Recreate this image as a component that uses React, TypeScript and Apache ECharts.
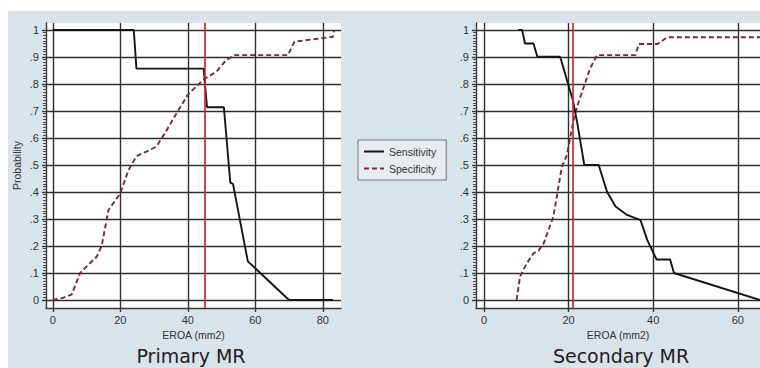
import React, { useEffect, useRef } from "react";
import * as echarts from "echarts";

// ---------- data ----------
const X_TICKS = [0, 20, 40, 60, 80];
const Y_TICKS = [0, 0.1, 0.2, 0.3, 0.4, 0.5, 0.6, 0.7, 0.8, 0.9, 1];
const SERIES_NAMES = ["Sensitivity", "Specificity"];
const PANEL_TITLES = ["Primary MR", "Secondary MR"];
const X_TITLE = "EROA (mm2)";
const Y_TITLE = "Probability";
const CUTOFFS = [45, 21];

const primSensX = [0, 24, 24.8, 44.7, 45.7, 50.7, 52.6, 53.4, 57.8, 70, 83];
const primSensY = [1, 1, 0.857, 0.857, 0.714, 0.714, 0.435, 0.43, 0.143, 0, 0];
const primSpecX = [0, 3, 5.6, 8.1, 11, 13, 14.5, 16.5, 20, 22.4, 24.8, 27.8, 30.7, 33.2, 36.6, 40, 44.5, 48.5, 51.4, 53.9, 69.7, 71.6, 83, 83.4];
const primSpecY = [0, 0.008, 0.02, 0.1, 0.136, 0.16, 0.2, 0.333, 0.395, 0.48, 0.533, 0.55, 0.568, 0.617, 0.69, 0.76, 0.815, 0.846, 0.889, 0.907, 0.907, 0.957, 0.975, 1];

const secSensX = [8.1, 9, 9.7, 11.7, 12.6, 18, 19.6, 21, 22, 23.7, 27.1, 29.1, 31.1, 33.8, 37, 38.6, 40.8, 44, 44.9, 65.3];
const secSensY = [1, 1, 0.95, 0.95, 0.901, 0.901, 0.815, 0.74, 0.66, 0.5, 0.5, 0.4, 0.346, 0.315, 0.296, 0.222, 0.15, 0.15, 0.1, 0];
const secSpecX = [7.7, 8.5, 10.1, 11.7, 12.9, 14.1, 16.4, 18.4, 19.6, 21, 22, 23.6, 25.1, 26.7, 35.8, 36.6, 41, 43.3, 66];
const secSpecY = [0, 0.086, 0.136, 0.173, 0.183, 0.21, 0.309, 0.494, 0.537, 0.654, 0.716, 0.79, 0.858, 0.907, 0.907, 0.948, 0.948, 0.973, 0.973];

// minor tick positions on probability axis (every .01)
const Y_MINOR: number[] = [];
for (let i = 0; i <= 100; i++) if (i % 10 !== 0) Y_MINOR.push(i / 100);

const zip = (xs: number[], ys: number[]) => xs.map((x, i) => [x, ys[i]]);

const GRID_COLOR = "#2e2e2e";
const AXIS_COLOR = "#3a3a3a";
const TEXT_COLOR = "#333";
const SENS_COLOR = "#151515";
const SPEC_COLOR = "#7a2a38";
const RED = "#cc2a2a";
const BG = "#d9e3ea";
const LABEL_FONT = "Liberation Sans";

export default function App() {
  const ref = useRef<HTMLDivElement>(null);

  useEffect(() => {
    if (!ref.current) return;
    const chart = echarts.init(ref.current, null, { renderer: "svg" });

    const grids = [
      { left: 46, right: 419, top: 23, bottom: 60 },
      { left: 476, right: 0, top: 23, bottom: 60 },
    ];
    const xRanges = [
      [-2, 85.4],
      [-1.9, 65.25],
    ];
    const yMin = -0.0296;
    const yMax = 1.026;

    const xAxes: any[] = [];
    const yAxes: any[] = [];
    grids.forEach((_, gi) => {
      xAxes.push({
        type: "value",
        gridIndex: gi,
        min: xRanges[gi][0],
        max: xRanges[gi][1],
        name: X_TITLE,
        nameLocation: "middle",
        nameGap: 21,
        nameTextStyle: { color: TEXT_COLOR, fontSize: 10.5, fontFamily: LABEL_FONT },
        axisLine: { show: true, onZero: false, lineStyle: { color: AXIS_COLOR, width: 1.4 } },
        axisTick: { show: true, length: 4, customValues: X_TICKS, lineStyle: { color: AXIS_COLOR, width: 1.4 } },
        axisLabel: {
          show: true,
          customValues: X_TICKS,
          margin: 6,
          color: TEXT_COLOR,
          fontSize: 11,
          fontFamily: LABEL_FONT,
        },
        splitLine: { show: true, lineStyle: { color: GRID_COLOR, width: 1.4 } },
      });
      yAxes.push({
        type: "value",
        gridIndex: gi,
        min: yMin,
        max: yMax,
        name: gi === 0 ? Y_TITLE : "",
        nameLocation: "middle",
        nameGap: 24,
        nameTextStyle: { color: TEXT_COLOR, fontSize: 10.5, fontFamily: LABEL_FONT },
        axisLine: { show: true, onZero: false, lineStyle: { color: AXIS_COLOR, width: 1.4 } },
        axisTick: { show: true, length: 4, customValues: Y_TICKS, lineStyle: { color: AXIS_COLOR, width: 1.4 } },
        axisLabel: {
          show: true,
          customValues: Y_TICKS,
          margin: 7,
          color: TEXT_COLOR,
          fontSize: 11,
          fontFamily: LABEL_FONT,
          formatter: (v: number) => (v === 0 ? "0" : v === 1 ? "1" : String(Math.round(v * 10) / 10).replace(/^0/, "")),
        },
        splitLine: { show: true, lineStyle: { color: GRID_COLOR, width: 1.4 } },
      });
    });
    // minor tick axes
    grids.forEach((_, gi) => {
      yAxes.push({
        type: "value",
        gridIndex: gi,
        min: yMin,
        max: yMax,
        position: "left",
        offset: 0,
        axisLine: { show: true, onZero: false, lineStyle: { color: "rgba(0,0,0,0)", width: 0 } },
        axisTick: { show: true, length: 3, customValues: Y_MINOR, lineStyle: { color: "#4a4a4a", width: 1 } },
        axisLabel: { show: false },
        splitLine: { show: false },
      });
    });

    const mkSeries = (name: string, gi: number, data: number[][], dashed: boolean, cut?: number) => ({
      type: "line",
      name,
      xAxisIndex: gi,
      yAxisIndex: gi,
      data,
      symbol: "none",
      silent: true,
      lineStyle: {
        color: dashed ? SPEC_COLOR : SENS_COLOR,
        width: 1.9,
        type: dashed ? [5, 3] : "solid",
      },
      itemStyle: { color: dashed ? SPEC_COLOR : SENS_COLOR },
      z: dashed ? 3 : 4,
      markLine:
        cut !== undefined
          ? {
              silent: true,
              symbol: ["none", "none"],
              label: { show: false },
              lineStyle: { color: RED, width: 1.7, type: "solid" },
              data: [{ xAxis: cut }],
            }
          : undefined,
    });

    const titleStyle = {
      textAlign: "center",
      textVerticalAlign: "middle",
      fontSize: 19,
      fontFamily: "DejaVu Sans",
      fill: "#222",
    };

    const option: any = {
      animation: false,
      backgroundColor: "#ffffff",
      grid: grids.map((g) => ({
        ...g,
        show: true,
        backgroundColor: "#ffffff",
        borderWidth: 0,
        containLabel: false,
      })),
      xAxis: xAxes,
      yAxis: yAxes,
      legend: {
        data: SERIES_NAMES,
        orient: "vertical",
        left: 358,
        top: 140,
        itemWidth: 20,
        itemHeight: 10,
        itemGap: 6,
        padding: [6, 10, 6, 5],
        borderColor: "#777",
        borderWidth: 1,
        borderRadius: 0,
        backgroundColor: "#e6ecf0",
        selectedMode: false,
        itemStyle: { opacity: 0 },
        textStyle: { color: TEXT_COLOR, fontSize: 10.5, fontFamily: LABEL_FONT },
      },
      graphic: [
        {
          type: "rect",
          shape: { x: 8, y: 11, width: 752, height: 357 },
          style: { fill: BG },
          z: -10,
          silent: true,
        },
        {
          type: "text",
          x: 191,
          y: 356,
          style: { ...titleStyle, text: PANEL_TITLES[0] },
        },
        {
          type: "text",
          x: 621,
          y: 356,
          style: { ...titleStyle, text: PANEL_TITLES[1] },
        },
      ],
      series: [
        mkSeries(SERIES_NAMES[0], 0, zip(primSensX, primSensY), false, CUTOFFS[0]),
        mkSeries(SERIES_NAMES[1], 0, zip(primSpecX, primSpecY), true),
        mkSeries(SERIES_NAMES[0], 1, zip(secSensX, secSensY), false, CUTOFFS[1]),
        mkSeries(SERIES_NAMES[1], 1, zip(secSpecX, secSpecY), true),
      ],
    };

    chart.setOption(option);
    return () => chart.dispose();
  }, []);

  return (
    <div
      ref={ref}
      style={{ position: "absolute", left: 0, top: 0, width: 760, height: 368, background: "#fff" }}
    />
  );
}
